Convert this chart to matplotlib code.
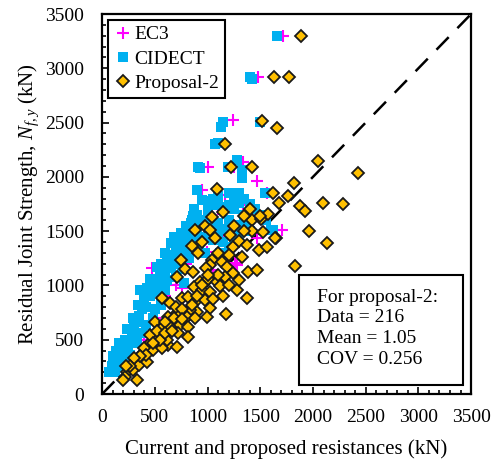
import matplotlib
matplotlib.use('Agg')
import matplotlib.pyplot as plt
from matplotlib.patches import Rectangle
from matplotlib.ticker import MultipleLocator

plt.rcParams['font.family'] = ['Liberation Serif', 'DejaVu Serif']
plt.rcParams['mathtext.fontset'] = 'custom'
plt.rcParams['mathtext.rm'] = 'Liberation Serif'
plt.rcParams['mathtext.it'] = 'Liberation Serif:italic'

# EC3 predictions (x) vs residual joint strength (y), kN
ec3_x = [1717, 1480, 1243, 1005, 1470, 1338, 1167, 1338, 1708, 1148, 1281, 1262,
         1053, 996, 759, 474, 1470, 1250, 950, 1000, 1100, 900, 800, 600, 500,
         400, 300, 200, 700, 1200, 1400, 1560]
ec3_y = [3300, 2920, 2520, 2090, 1965, 2140, 1832, 1745, 1510, 1492, 1188, 1206,
         1142, 1308, 976, 1160, 1436, 2090, 1880, 1600, 1700, 1400, 1200, 900, 700,
         500, 350, 250, 1000, 1500, 1600, 1850]

# CIDECT predictions
cidect_x = [1660, 1400, 1420, 1150, 1130, 1500, 1100, 1072, 910, 930, 1280, 1330,
            1330, 1190, 900, 1546, 1622,
            70, 90, 110, 100, 150, 130, 180, 200, 160, 220, 250, 280, 240, 300,
            330, 290, 350, 380, 340, 420, 400, 450, 470, 430, 510, 520, 300, 250,
            200, 150, 120, 260, 330, 380, 420, 480, 500, 560, 560, 600,
            500, 550, 520, 600, 560, 620, 600, 660, 650, 700, 720, 680, 750, 700,
            760, 800, 650, 700, 620, 760, 820, 850, 880, 800, 840, 900, 960, 920,
            1000, 1050, 980, 1100, 1150, 1200, 1250, 1300, 1120, 1200,
            800, 850, 900, 870, 950, 1000, 1050, 1100, 1150, 1200, 1250, 1300,
            1000, 1100, 1200, 1300, 1250, 1150, 1050, 960, 1350, 1380, 1600, 1400,
            1400, 1450, 1500, 1550, 1350, 1300, 1250, 1200, 1100, 1050, 1000, 950,
            870, 860, 840, 560, 450, 400, 360, 780, 720]
cidect_y = [3300, 2920, 2900, 2510, 2460, 2510, 2311, 2300, 2090, 2080, 2155, 1990,
            2060, 2090, 1880, 1851, 1510,
            200, 260, 300, 350, 330, 400, 420, 380, 470, 500, 460, 560, 600, 620,
            660, 700, 720, 780, 820, 800, 860, 900, 960, 980, 940, 1000, 500, 420,
            300, 250, 200, 360, 470, 560, 640, 700, 780, 820, 900, 960,
            1040, 1100, 1170, 1120, 1200, 1230, 1300, 1280, 1390, 1350, 1420, 1450,
            1480, 1200, 1300, 1380, 1160, 1080, 1050, 1150, 1250, 1330, 1420, 1460,
            1500, 1500, 1450, 1350, 1480, 1420, 1300, 1450, 1400, 1480, 1420, 1460,
            1300, 1350,
            1550, 1600, 1650, 1560, 1600, 1700, 1740, 1760, 1720, 1740, 1700, 1760,
            1620, 1580, 1600, 1560, 1520, 1520, 1540, 1560, 1650, 1560, 1510, 1500,
            1750, 1700, 1650, 1600, 1800, 1850, 1820, 1850, 1820, 1800, 1780, 1790,
            1700, 1640, 1580, 1030, 1060, 880, 960, 1020, 1240]

# Proposal-2 predictions
prop_x = [1890, 1630, 1770, 1520, 1660, 1167, 1224, 1423, 1091, 1622, 1765, 1822,
          2429, 2049, 1680, 1879, 1926, 1964, 2097, 2287, 1650, 2135, 1831,
          1148, 1044, 1404, 1423, 1509, 1575, 882, 977, 1025, 1072, 1214, 1423,
          1528, 1641, 854, 911, 1243, 1300, 1376, 1490, 1565, 1328, 1044, 1139,
          1186, 1243, 1385, 1470, 1025, 1347, 1499,
          750, 788, 863, 987, 930, 1006, 1091, 1167, 712, 873, 949, 1025, 1120,
          1281, 1376, 569, 645, 759, 816, 882, 977, 1025, 901, 835, 806, 712, 626,
          996, 1176, 740, 816, 503, 569, 645, 721, 816, 626, 455, 389, 379, 313,
          285, 237, 218, 294, 351, 427, 484, 569, 617, 531, 455, 712, 332, 199,
          400, 520, 600, 680, 700, 760, 850, 900, 950, 1050, 1100, 1200, 1300,
          550, 480, 420, 360, 300, 260, 230, 600, 660, 760, 880, 1000, 1150, 1200,
          1100, 950, 1350, 1250]
prop_y = [3300, 2920, 2920, 2514, 2450, 2302, 2090, 2090, 1888, 1851, 1823, 1948,
          2035, 2145, 1759, 1731, 1685, 1501, 1759, 1755, 1436, 1395, 1179,
          1676, 1630, 1704, 1602, 1611, 1657, 1510, 1547, 1510, 1436, 1464, 1501,
          1492, 1436, 1363, 1298, 1354, 1409, 1372, 1326, 1354, 1261, 1234, 1215,
          1169, 1114, 1123, 1142, 1188, 1639, 1639,
          1234, 1151, 1123, 1160, 1031, 1059, 1031, 1077, 1077, 985, 958, 939, 994,
          958, 884, 884, 838, 884, 893, 847, 866, 792, 755, 773, 709, 746, 709,
          709, 737, 635, 617, 663, 608, 617, 562, 525, 451, 470, 378, 313, 295,
          249, 203, 157, 221, 267, 295, 405, 424, 497, 525, 543, 433, 129, 129,
          420, 580, 660, 700, 800, 780, 820, 900, 1000, 880, 1100, 1000, 1050,
          500, 470, 360, 350, 330, 260, 260, 560, 580, 690, 700, 1100, 900, 1280,
          1300, 1400, 1500, 1550]

stats_text = 'For proposal-2:\nData = 216\nMean = 1.05\nCOV = 0.256'

fig = plt.figure(figsize=(4.98, 4.68), dpi=100)
ax = fig.add_axes([0.205, 0.158, 0.741, 0.812])

ax.plot([0, 3500], [0, 3500], color='black', lw=1.8, ls=(0, (7, 5)), zorder=1)
ax.plot(ec3_x, ec3_y, ls='none', marker='+', ms=9, mew=1.5, color='#FF00FF',
        label='EC3', zorder=2)
ax.plot(cidect_x, cidect_y, ls='none', marker='s', ms=7.5, mew=0, color='#00B0F0',
        label='CIDECT', zorder=3)
ax.plot(prop_x, prop_y, ls='none', marker='D', ms=6.3, mew=1.3, mfc='#FFC000',
        mec='#1a1a1a', label='Proposal-2', zorder=4)

ax.set_xlim(0, 3500)
ax.set_ylim(0, 3500)
ax.xaxis.set_major_locator(MultipleLocator(500))
ax.yaxis.set_major_locator(MultipleLocator(500))
ax.xaxis.set_minor_locator(MultipleLocator(100))
ax.yaxis.set_minor_locator(MultipleLocator(100))
ax.tick_params(which='both', direction='in', top=False, right=False,
               labelsize=14, width=1.2)
ax.tick_params(axis='x', pad=11)
ax.tick_params(axis='y', pad=13)
ax.tick_params(which='major', length=5)
ax.tick_params(which='minor', length=3)
for s in ax.spines.values():
    s.set_linewidth(1.6)

ax.set_xlabel('Current and proposed resistances (kN)', fontsize=15, labelpad=9)
ax.set_ylabel(r'Residual Joint Strength, $N_{f,y}$ (kN)', fontsize=15, labelpad=3)

leg = ax.legend(loc='upper left', fontsize=14, frameon=True, fancybox=False,
                handletextpad=0.15, handlelength=0.9, borderpad=0.3,
                labelspacing=0.35, borderaxespad=0.3, framealpha=1)
leg.get_frame().set_edgecolor('black')
leg.get_frame().set_linewidth(1.5)

ax.add_patch(Rectangle((0.534, 0.024), 0.444, 0.289, transform=ax.transAxes,
                       fc='white', ec='black', lw=1.5, zorder=5))
ax.text(0.583, 0.277, stats_text, transform=ax.transAxes, fontsize=14,
        va='top', ha='left', linespacing=1.28, zorder=6)

fig.savefig('out.png', dpi=100)
